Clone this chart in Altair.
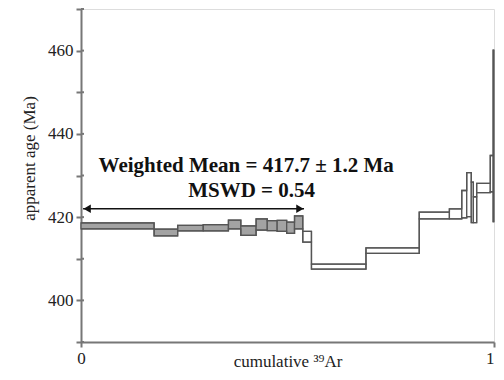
import altair as alt
import pandas as pd

# Step data: cumulative 39Ar fraction (start, end), age and 1-sigma error (Ma), plateau flag
x_start = [0.000, 0.177, 0.234, 0.296, 0.357, 0.387, 0.424, 0.451, 0.475, 0.498, 0.517,
           0.537, 0.558, 0.690, 0.819, 0.892, 0.922, 0.934, 0.945, 0.950, 0.958, 0.991, 0.998]
x_end = [0.177, 0.234, 0.296, 0.357, 0.387, 0.424, 0.451, 0.475, 0.498, 0.517, 0.537,
         0.558, 0.690, 0.819, 0.892, 0.922, 0.934, 0.945, 0.950, 0.958, 0.991, 0.998, 1.000]
age = [417.9, 416.3, 417.35, 417.45, 418.25, 416.75, 418.25, 417.95, 417.9, 417.45, 418.75,
       415.3, 408.1, 411.95, 420.4, 420.8, 423.1, 425.4, 423.55, 421.8, 427.0, 430.45, 439.5]
err = [0.7, 0.8, 0.65, 0.75, 1.05, 1.15, 1.35, 1.2, 1.3, 1.35, 1.55,
       1.3, 0.6, 0.65, 0.8, 1.2, 3.3, 5.3, 4.85, 3.1, 1.1, 4.35, 20.6]
plateau = ["yes"] * 11 + ["no"] * 12

y_ticks = [390, 400, 410, 420, 430, 440, 450, 460, 470]
x_ticks = [0, 1]

arrow_x = [0.005, 0.540]
arrow_y = [422.0]
head_x = [0.0150, 0.530]
head_shape = ["triangle-left", "triangle-right"]

text_lines = ["Weighted Mean = 417.7 \u00b1 1.2 Ma", "MSWD = 0.54"]
text_x = [0.400, 0.413]
text_y = [430.8, 424.8]

lo = [a - e for a, e in zip(age, err)]
hi = [a + e for a, e in zip(age, err)]
df = pd.DataFrame({"x0": x_start, "x1": x_end, "lo": lo, "hi": hi, "plateau": plateau})

# step outlines (top and bottom envelopes)
env = pd.DataFrame({
    "x": x_start + [x_end[-1]] + x_start + [x_end[-1]],
    "v": hi + [hi[-1]] + lo + [lo[-1]],
    "edge": ["top"] * (len(hi) + 1) + ["bottom"] * (len(lo) + 1),
})

xs = alt.Scale(domain=[0, 1], nice=False, zero=False)
ys = alt.Scale(domain=[390, 470], nice=False, zero=False)
FONT = "Liberation Serif"
LINE = "#555555"

steps = alt.Chart(df).mark_rect(stroke=LINE, strokeWidth=1.3).encode(
    x=alt.X("x0:Q", scale=xs,
            axis=alt.Axis(values=x_ticks, title="cumulative \u00b3\u2079Ar", grid=False,
                          labelFontSize=17, titleFontSize=17, labelFont=FONT, titleFont=FONT,
                          titleFontWeight="normal", labelColor="#222", titleColor="#222",
                          domainColor="#777", domainWidth=2, tickColor="#777", tickWidth=2,
                          tickSize=5, labelPadding=3, labelFlush=False,
                          labelAlign={"condition": {"test": "datum.value == 1", "value": "right"},
                                      "value": "center"},
                          titleY=24, titleBaseline="alphabetic", format="d")),
    x2="x1:Q",
    y=alt.Y("lo:Q", scale=ys,
            axis=alt.Axis(values=y_ticks, title="apparent age (Ma)", grid=False,
                          labelExpr="datum.value % 20 == 0 ? datum.label : ''",
                          labelFontSize=17, titleFontSize=17, labelFont=FONT, titleFont=FONT,
                          titleFontWeight="normal", labelColor="#222", titleColor="#222",
                          domainColor="#777", domainWidth=2, tickColor="#777", tickWidth=2,
                          tickSize=5, labelPadding=3, labelFlush=False, titleX=-52, titleY=149,
                          titleAlign="center", titleBaseline="middle", titleAngle=270)),
    y2="hi:Q",
    fill=alt.Fill("plateau:N", scale=alt.Scale(domain=["yes", "no"], range=["#a3a3a3", "#ffffff"]),
                  legend=None),
)

outline = alt.Chart(env).mark_line(interpolate="step-after", color=LINE, strokeWidth=1.3).encode(
    x=alt.X("x:Q", scale=xs), y=alt.Y("v:Q", scale=ys), detail="edge:N"
)

inner_ticks = alt.Chart(pd.DataFrame({"t": y_ticks})).mark_rule(color="#777", strokeWidth=2).encode(
    y=alt.Y("t:Q", scale=ys), x=alt.value(0), x2=alt.value(3)
)

arrow = alt.Chart(pd.DataFrame({"xa": [arrow_x[0]], "xb": [arrow_x[1]], "ya": arrow_y})).mark_rule(
    color="#111", strokeWidth=1.6).encode(
    x=alt.X("xa:Q", scale=xs), x2="xb:Q", y=alt.Y("ya:Q", scale=ys)
)

heads = alt.Chart(pd.DataFrame({"hx": head_x, "hy": arrow_y * 2, "sh": head_shape})).mark_point(
    filled=True, color="#111", size=70, opacity=1).encode(
    x=alt.X("hx:Q", scale=xs), y=alt.Y("hy:Q", scale=ys),
    shape=alt.Shape("sh:N", scale=alt.Scale(domain=head_shape, range=head_shape), legend=None)
)

label = alt.Chart(pd.DataFrame({"tx": text_x, "ty": text_y, "s": text_lines})).mark_text(
    font=FONT, fontSize=21, fontWeight="bold", color="#111", align="center", baseline="alphabetic"
).encode(x=alt.X("tx:Q", scale=xs), y=alt.Y("ty:Q", scale=ys), text="s:N")

chart = alt.layer(steps, outline, inner_ticks, arrow, heads, label).properties(
    width=413, height=333,
    autosize=alt.AutoSizeParams(type="none"),
    padding={"left": 73, "top": 1, "right": 2, "bottom": 28},
).configure_view(stroke="#888", strokeWidth=1.5).configure(background="white")

chart.save("out.html", embed_options={"renderer": "svg", "actions": False})
